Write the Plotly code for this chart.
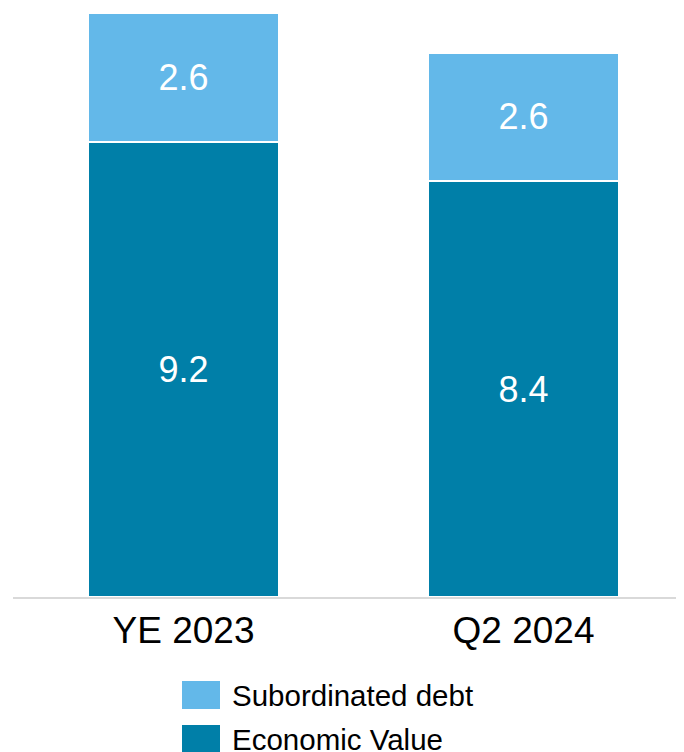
import plotly.graph_objects as go

categories = ["YE 2023", "Q2 2024"]
economic_value = [9.2, 8.4]
subordinated_debt = [2.6, 2.6]
series_names = ["Subordinated debt", "Economic Value"]
colors = {"Subordinated debt": "#63B8E9", "Economic Value": "#007FA8"}

# page body has an 8px margin; work in figure pixels = page pixels - 8
OFF = 8
W, H = 684 - OFF, 752 - OFF
ML, MR, MT, MB = 13 - OFF, 0, 10 - OFF, 155
pw, ph = W - ML - MR, H - MT - MB

fig = go.Figure()
fig.add_trace(go.Bar(
    x=categories, y=economic_value, name="Economic Value",
    marker=dict(color=colors["Economic Value"], line=dict(color="white", width=2)),
    text=[f"{v:.1f}" for v in economic_value], textposition="inside",
    insidetextanchor="middle", textangle=0,
    textfont=dict(color="white", size=36, family="Arial, Liberation Sans"),
    width=0.56, showlegend=False,
))
fig.add_trace(go.Bar(
    x=categories, y=subordinated_debt, name="Subordinated debt",
    marker=dict(color=colors["Subordinated debt"], line=dict(color="white", width=2)),
    text=[f"{v:.1f}" for v in subordinated_debt], textposition="inside",
    insidetextanchor="middle", textangle=0,
    textfont=dict(color="white", size=36, family="Arial, Liberation Sans"),
    width=0.56, showlegend=False,
))

def px_to_paper_x(px):
    return (px - OFF - ML) / pw

def px_to_paper_y(py):
    return (H - MB - (py - OFF)) / ph

shapes = []
annotations = []
for i, name in enumerate(series_names):
    top = 681 + i * 44
    shapes.append(dict(
        type="rect", xref="paper", yref="paper",
        x0=px_to_paper_x(182), x1=px_to_paper_x(220),
        y0=px_to_paper_y(top + 28), y1=px_to_paper_y(top),
        fillcolor=colors[name], line=dict(width=0),
    ))
    annotations.append(dict(
        xref="paper", yref="paper", x=px_to_paper_x(230), y=px_to_paper_y(top + 14),
        xanchor="left", yanchor="middle", text=name, showarrow=False,
        font=dict(size=29.5, color="black", family="Arial, Liberation Sans"),
    ))

fig.update_layout(
    barmode="stack",
    width=W, height=H,
    margin=dict(l=ML, r=MR, t=MT, b=MB),
    plot_bgcolor="white", paper_bgcolor="white",
    shapes=shapes, annotations=annotations,
    font=dict(family="Arial, Liberation Sans", color="black"),
    xaxis=dict(
        range=[-0.5015, 1.472], showline=True, linecolor="#D9D9D9", linewidth=2,
        tickfont=dict(size=37, color="black"), ticks="", showgrid=False,
    ),
    yaxis=dict(range=[0, 587 / 49.49], visible=False, showgrid=False),
    showlegend=False,
)

fig.write_html("out.html")
